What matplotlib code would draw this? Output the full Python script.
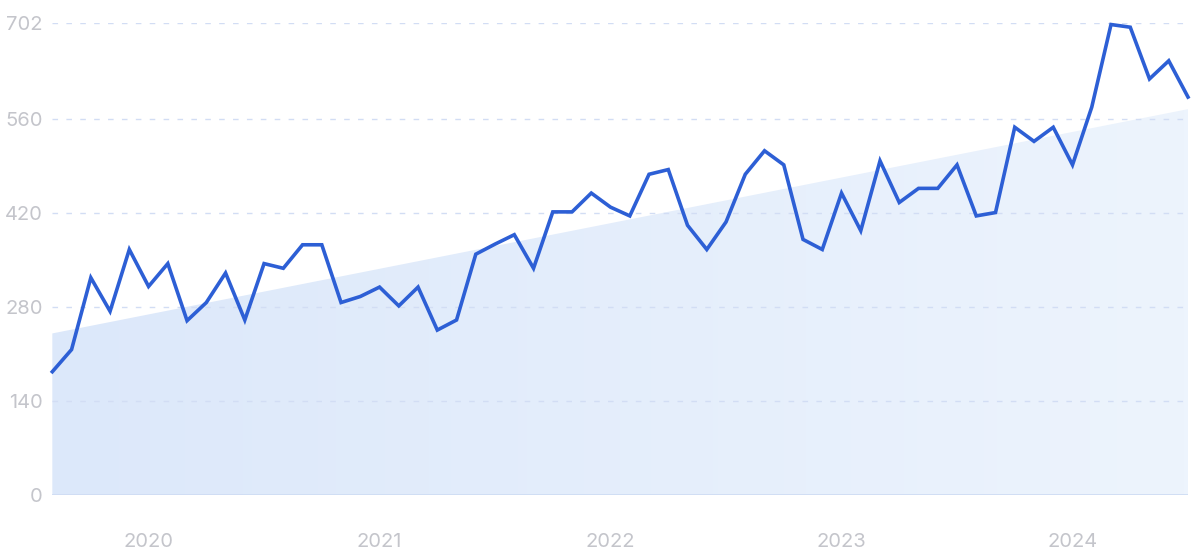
import numpy as np
import matplotlib
matplotlib.use("Agg")
import matplotlib.pyplot as plt

# monthly values, Aug 2019 .. Jul 2024
values = [183, 216, 323, 273, 365, 310, 344, 259, 286, 330,
          260, 344, 337, 372, 372, 286, 295, 309, 281, 309,
          245, 260, 358, 373, 387, 337, 421, 421, 449, 428,
          415, 477, 484, 401, 365, 406, 477, 512, 491, 380,
          365, 449, 393, 497, 435, 456, 456, 491, 415, 420,
          547, 526, 547, 491, 577, 700, 696, 619, 646, 592]
trend_x = [0, 59]
trend_y = [240, 574]
year_pos = [5, 17, 29, 41, 53]
year_labels = ["2020", "2021", "2022", "2023", "2024"]
y_ticks = [0, 140, 280, 420, 560, 702]

plt.rcParams['font.family'] = ['Inter', 'DejaVu Sans']

fig = plt.figure(figsize=(12, 5.6), dpi=100)
ax = fig.add_axes([0.0436, 0.1168, 0.9464, 0.8418])

x = np.arange(len(values))

# trend area with soft gradient
poly = ax.fill_between(trend_x, 0, trend_y, color='none', lw=0)
grad = np.linspace(0, 1, 256).reshape(1, -1)
cmap = matplotlib.colors.LinearSegmentedColormap.from_list("g", ["#dce8fa", "#edf4fd"])
im = ax.imshow(grad, cmap=cmap, aspect='auto', extent=[0, 59, 0, 702], zorder=1)
im.set_clip_path(poly.get_paths()[0], transform=ax.transData)

for t in y_ticks[1:]:
    ax.axhline(t, color='#d2ddf4', lw=1, ls=(0, (4, 6)), zorder=2)
ax.axhline(0, color='#cbdaf3', lw=1.2, zorder=2)

ax.plot(x, values, color='#2d5fd5', lw=2.6, zorder=3, clip_on=False,
        solid_joinstyle='miter')

ax.set_xlim(0, 59)
ax.set_ylim(0, 702)
ax.set_yticks(y_ticks)
ax.set_xticks(year_pos)
ax.set_xticklabels(year_labels)
ax.tick_params(axis='both', length=0, colors='#c4c5cb', labelsize=14.5)
ax.tick_params(axis='x', pad=28)
ax.tick_params(axis='y', pad=7)
for s in ax.spines.values():
    s.set_visible(False)

fig.savefig("out.png", dpi=100)
